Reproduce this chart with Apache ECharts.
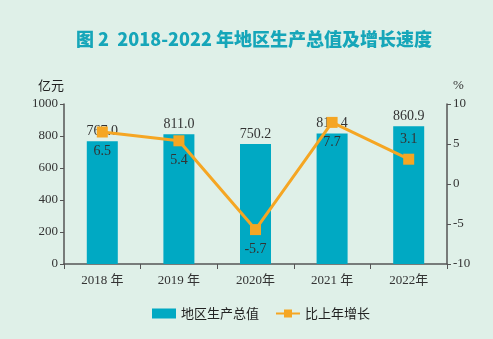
<!DOCTYPE html>
<html><head><meta charset="utf-8">
<script src="https://cdn.jsdelivr.net/npm/echarts@6/dist/echarts.min.js"></script>
<style>html,body{margin:0;padding:0;background:#dff0e8;}#c{width:493px;height:339px;}</style>
</head><body><div id="c"></div>
<script>
const categories = ['2018 年','2019 年','2020年','2021 年','2022年'];
const gdpValues = [767.0, 811.0, 750.2, 815.4, 860.9];
const growthValues = [6.5, 5.4, -5.7, 7.7, 3.1];
const leftTicks = [0, 200, 400, 600, 800, 1000];
const rightTicks = [-10, -5, 0, 5, 10];

const serif = '"Liberation Serif","DejaVu Serif","Noto Sans CJK SC",serif';
const chart = echarts.init(document.getElementById('c'));
chart.setOption({
  backgroundColor: '#dff0e8',
  title: {
    text: '图 2  2018-2022 年地区生产总值及增长速度',
    left: 71, top: 25,
    textStyle: {color: '#16a6b9', fontSize: 18, fontWeight: 900, fontFamily: '"Noto Sans CJK SC",sans-serif'}
  },
  legend: {
    bottom: 14, left: 147, itemGap: 16, itemWidth: 24, itemHeight: 10,
    textStyle: {fontSize: 13, color: '#222', fontFamily: '"Noto Sans CJK SC",serif'},
    data: [{name: '地区生产总值', icon: 'rect'}, {name: '比上年增长'}]
  },
  grid: {left: 64, right: 46, top: 104, bottom: 75, containLabel: false},
  xAxis: {
    type: 'category', data: categories,
    axisLine: {lineStyle: {color: '#555', width: 1.5}},
    axisTick: {show: true, length: 5, lineStyle: {color: '#555'}},
    axisLabel: {fontFamily: serif, fontSize: 13, color: '#333', margin: 10}
  },
  yAxis: [{
    type: 'value', min: 0, max: 1000, interval: 200, name: '亿元',
    nameLocation: 'end', nameGap: 12,
    nameTextStyle: {fontFamily: '"Noto Sans CJK SC",serif', fontSize: 13, color: '#222', align: 'right', padding: [0, 0, 0, 0]},
    axisLine: {show: true, lineStyle: {color: '#555', width: 1.5}},
    axisTick: {show: true, length: 4, lineStyle: {color: '#555'}},
    splitLine: {show: false},
    axisLabel: {fontFamily: serif, fontSize: 13, color: '#333', margin: 6, formatter: v => String(v)}
  }, {
    type: 'value', min: -10, max: 10, interval: 5, name: '%',
    nameLocation: 'end', nameGap: 12,
    nameTextStyle: {fontFamily: serif, fontSize: 13, color: '#333', align: 'left', padding: [0, 0, 0, 6]},
    axisLine: {show: true, lineStyle: {color: '#555', width: 1.5}},
    axisTick: {show: true, length: 4, lineStyle: {color: '#555'}},
    splitLine: {show: false},
    axisLabel: {fontFamily: serif, fontSize: 13, color: '#333', margin: 6, formatter: v => String(v)}
  }],
  series: [{
    name: '地区生产总值', type: 'bar', data: gdpValues, barWidth: 31,
    itemStyle: {color: '#00a9c3'},
    label: {show: true, position: 'top', distance: 3, fontFamily: serif, fontSize: 14, color: '#333',
      formatter: p => p.value.toFixed(1)}
  }, {
    name: '比上年增长', type: 'line', yAxisIndex: 1,
    data: growthValues.map((v, i) => ({value: v, label: {position: i === 4 ? 'top' : 'bottom'}})),
    symbol: 'rect', symbolSize: 11,
    lineStyle: {color: '#f5a623', width: 3},
    itemStyle: {color: '#f5a623'},
    label: {show: true, fontFamily: serif, fontSize: 14, color: '#333', distance: 7,
      formatter: p => p.value.toFixed(1)},
    z: 5
  }]
});
</script></body></html>
